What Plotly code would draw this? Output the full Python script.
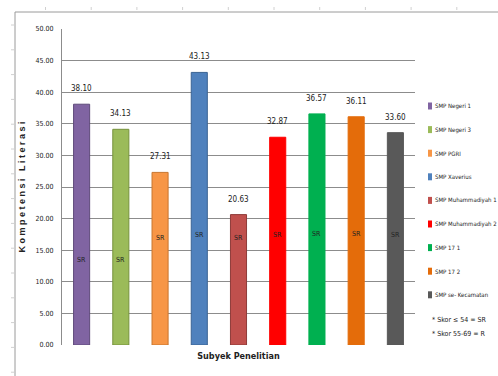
import plotly.graph_objects as go

categories = ["SMP Negeri 1", "SMP Negeri 3", "SMP PGRI", "SMP Xaverius",
              "SMP Muhammadiyah 1", "SMP Muhammadiyah 2", "SMP 17 1", "SMP 17 2",
              "SMP se- Kecamatan"]
values = [38.10, 34.13, 27.31, 43.13, 20.63, 32.87, 36.57, 36.11, 33.60]
category_labels = ["SR"] * 9
label_heights = [13.5, 13.5, 17.0, 17.4, 17.0, 17.4, 17.5, 17.5, 17.4]
colors = ["#8064A2", "#9BBB59", "#F79646", "#4F81BD", "#C0504D",
          "#FF0000", "#00B050", "#E46C0A", "#595959"]
outline = ["#5E4A7A", "#76923C", "#C8762F", "#3A6293", "#8E3B39",
           "#FF0000", "#00B050", "#E46C0A", "#595959"]
y_ticks = [0, 5, 10, 15, 20, 25, 30, 35, 40, 45, 50]
notes = ["* Skor ≤ 54 = SR", "* Skor 55-69 = R"]

FONT = "Liberation Sans Narrow, Arial Narrow, DejaVu Sans Condensed, sans-serif"
W, H = 498, 376
ML, MR, MT, MB = 62, 83, 29, 31
PW, PH = W - ML - MR, H - MT - MB

def px(x):
    return (x - ML) / PW

def py(y):
    return 1 - (y - MT) / PH

fig = go.Figure()
for i, (c, v) in enumerate(zip(categories, values)):
    fig.add_trace(go.Bar(
        x=[c], y=[v], name=c, showlegend=False,
        marker=dict(color=colors[i], line=dict(color=outline[i], width=1)),
        width=0.41,
        cliponaxis=False,
    ))
    fig.add_annotation(x=c, y=v, text=f"{v:.2f}", showarrow=False,
                       yanchor="bottom", yshift=9,
                       font=dict(family=FONT, size=8, color="#222"))
    fig.add_annotation(x=c, y=label_heights[i], text=category_labels[i],
                       showarrow=False,
                       font=dict(family=FONT, size=7, color="#222"))

shapes = []
# outer page frame
shapes.append(dict(type="line", xref="paper", yref="paper", x0=px(15), x1=px(498),
                   y0=py(12), y1=py(12), line=dict(color="#9a9a9a", width=1)))
shapes.append(dict(type="line", xref="paper", yref="paper", x0=px(15), x1=px(15),
                   y0=py(12), y1=py(376), line=dict(color="#9a9a9a", width=1)))
tx = 45.5
while tx < 498:
    shapes.append(dict(type="line", xref="paper", yref="paper", x0=px(tx), x1=px(tx),
                       y0=py(7), y1=py(10), line=dict(color="#d0d0d0", width=1)))
    tx += 45.7
ty = 25
while ty < 376:
    shapes.append(dict(type="line", xref="paper", yref="paper", x0=px(11), x1=px(14),
                       y0=py(ty), y1=py(ty), line=dict(color="#d0d0d0", width=1)))
    ty += 24.8

# legend (drawn manually to get Excel-like compact entries)
for i, c in enumerate(categories):
    yc = 106 + 23.6 * i
    shapes.append(dict(type="rect", xref="paper", yref="paper",
                       x0=px(428), x1=px(432), y0=py(yc - 3.5), y1=py(yc + 3.5),
                       fillcolor=colors[i], line=dict(width=0)))
    fig.add_annotation(xref="paper", yref="paper", x=px(433), y=py(yc),
                       xanchor="left", yanchor="middle", text=c, showarrow=False,
                       font=dict(family=FONT, size=6, color="#222"))

for j, n in enumerate(notes):
    fig.add_annotation(xref="paper", yref="paper", x=px(430), y=py(320 + 14 * j),
                       xanchor="left", yanchor="middle", text=n, showarrow=False,
                       font=dict(family=FONT, size=7, color="#222"))

fig.update_layout(
    width=W, height=H,
    margin=dict(l=ML, r=MR, t=MT, b=MB, pad=0, autoexpand=False),
    paper_bgcolor="white", plot_bgcolor="white",
    barmode="overlay",
    showlegend=False,
    shapes=shapes,
    font=dict(family=FONT),
)
fig.update_xaxes(showticklabels=False, showgrid=False, ticks="",
                 title=dict(text="<b>Subyek Penelitian</b>", standoff=7,
                            font=dict(family=FONT, size=9, color="#222")),
                 showline=False)
fig.update_yaxes(range=[0, 50], tickvals=y_ticks, tickformat=".2f",
                 showgrid=True, gridcolor="#8c8c8c", gridwidth=1,
                 showline=True, linecolor="#8c8c8c", linewidth=1,
                 ticks="", ticklabelstandoff=6,
                 tickfont=dict(family=FONT, size=7, color="#222"),
                 zeroline=False,
                 title=dict(text="<b>K o m p e t e n s i   L i t e r a s i</b>", standoff=8,
                            font=dict(family="Arial, Liberation Sans, sans-serif", size=9, color="#222")))

fig.write_html("out.html")
